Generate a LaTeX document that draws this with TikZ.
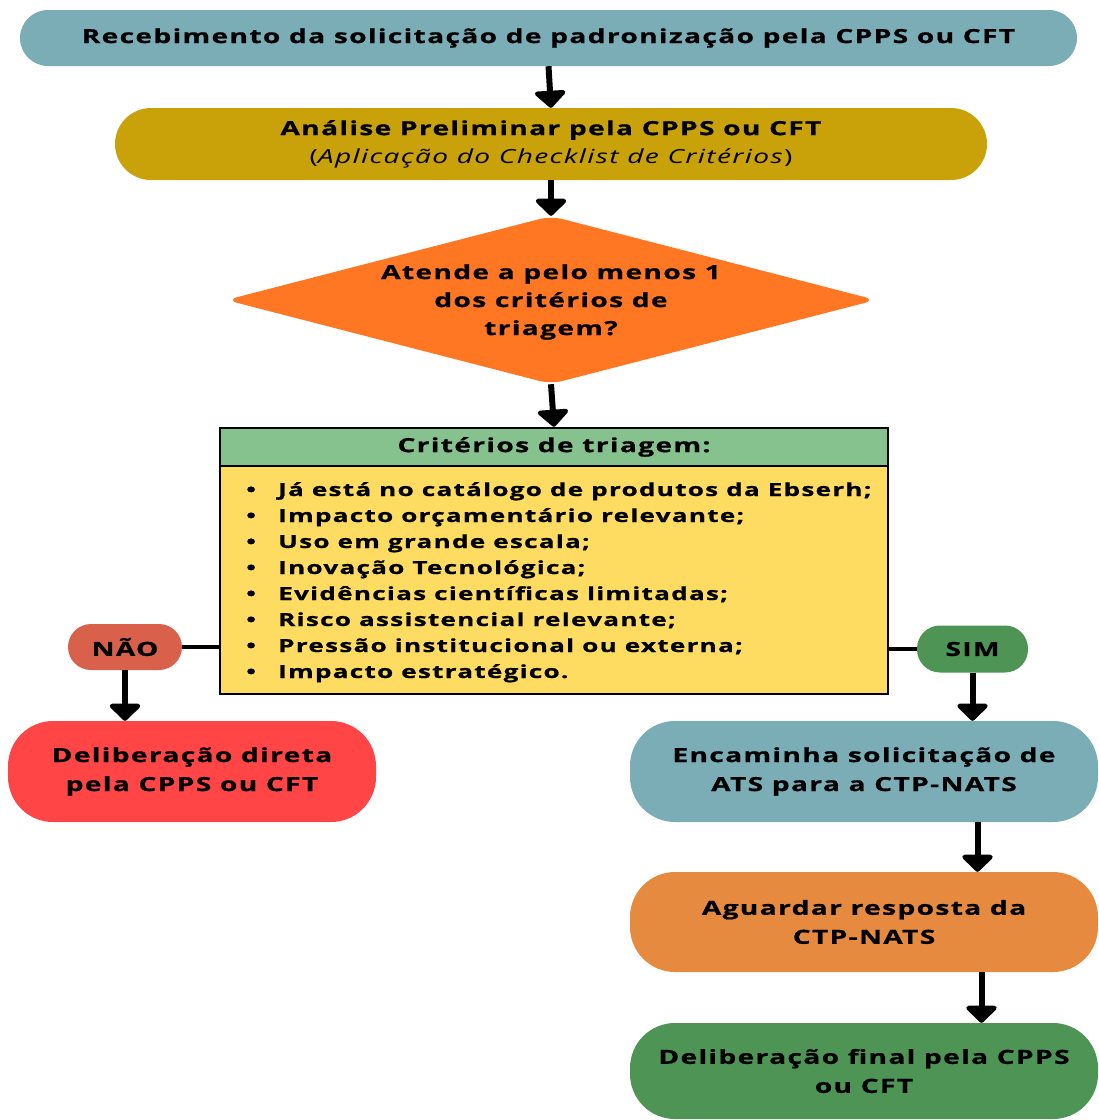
\documentclass[tikz,border=0pt]{standalone}
\usepackage{fontspec}
\setmainfont{Open Sans}[FakeStretch=1.45,LetterSpace=7,BoldFeatures={FakeBold=0.8}]
\usetikzlibrary{arrows.meta,shapes.geometric,calc}
\definecolor{cteal}{HTML}{7AADB6}
\definecolor{cmust}{HTML}{C9A20A}
\definecolor{corange}{HTML}{FF7722}
\definecolor{chead}{HTML}{86C28E}
\definecolor{cyellow}{HTML}{FEDC62}
\definecolor{cnao}{HTML}{D9604A}
\definecolor{cred}{HTML}{FF4545}
\definecolor{cgreen}{HTML}{4D9455}
\definecolor{cwait}{HTML}{E68A40}
\tikzset{
  pill/.style={draw=none, rectangle, rounded corners=#1, inner sep=0pt, align=center, font=\bfseries\fontsize{19.4}{29}\selectfont},
  arr/.style={line width=6pt, -{Triangle[width=36pt,length=18pt,round]}},
  link/.style={line width=3.5pt},
}
\begin{document}
\begin{tikzpicture}[x=1pt,y=-1pt]
\useasboundingbox (0,0) rectangle (1099,1120);
\node[pill=28pt, fill=cteal, minimum width=1057pt, minimum height=56pt] (b1) at (548.5,38) {Recebimento da solicitação de padronização pela CPPS ou CFT};
\node[pill=36pt, fill=cmust, minimum width=872pt, minimum height=72pt] (b2) at (551,144) {Análise Preliminar pela CPPS ou CFT\\[-1pt]{\mdseries(\itshape Aplicação do Checklist de Critérios\/\upshape)}};
\node[diamond, aspect=3.87, fill=corange, minimum width=650pt, minimum height=168pt, inner sep=0pt, rounded corners=12pt] (dec) at (551,300) {};
\node[align=center, font=\bfseries\fontsize{19.4}{28}\selectfont] (dectext) at (551,302) {Atende a pelo menos 1\\dos critérios de\\triagem?};
\node[draw=black, line width=2.5pt, fill=chead, minimum width=668pt, minimum height=38pt, inner sep=0pt, font=\bfseries\fontsize{19.4}{24}\selectfont] (hdr) at (554,447) {Critérios de triagem:};
\node[draw=black, line width=2.5pt, fill=cyellow, minimum width=668pt, minimum height=228pt, inner sep=0pt] (body) at (554,580) {};
\node[anchor=north west, align=left, inner sep=0pt, font=\bfseries\fontsize{18}{26}\selectfont] (list) at (246,482) {%
\makebox[32pt][l]{•}Já está no catálogo de produtos da Ebserh;\\
\makebox[32pt][l]{•}Impacto orçamentário relevante;\\
\makebox[32pt][l]{•}Uso em grande escala;\\
\makebox[32pt][l]{•}Inovação Tecnológica;\\
\makebox[32pt][l]{•}Evidências científicas limitadas;\\
\makebox[32pt][l]{•}Risco assistencial relevante;\\
\makebox[32pt][l]{•}Pressão institucional ou externa;\\
\makebox[32pt][l]{•}Impacto estratégico.};
\node[pill=23pt, fill=cnao, minimum width=114pt, minimum height=46pt] (nao) at (125,647) {NÃO};
\node[pill=23pt, fill=cgreen, minimum width=111pt, minimum height=47pt] (sim) at (972.5,649) {SIM};
\node[pill=45pt, fill=cred, minimum width=368pt, minimum height=101pt] (dir) at (192,771.5) {Deliberação direta\\pela CPPS ou CFT};
\node[pill=45pt, fill=cteal, minimum width=468pt, minimum height=101pt] (enc) at (864,771.5) {Encaminha solicitação de\\ATS para a CTP-NATS};
\node[pill=45pt, fill=cwait, minimum width=468pt, minimum height=100pt] (agu) at (864,922) {Aguardar resposta da\\CTP-NATS};
\node[pill=45pt, fill=cgreen, minimum width=468pt, minimum height=96pt] (fin) at (864,1071) {Deliberação final pela CPPS\\ou CFT};
\draw[arr] (b1.south) -- (b2.north);
\draw[arr] (b2.south) -- (dec.north);
\draw[arr] (dec.south) -- (hdr.north);
\draw[link] (nao.east) -- (nao.east -| body.west);
\draw[link] (sim.west) -- (sim.west -| body.east);
\draw[arr] (nao.south) -- (nao.south |- dir.north);
\draw[arr] (sim.south) -- (sim.south |- enc.north);
\draw[arr] ([xshift=5pt]sim.south |- enc.south) -- ([xshift=5pt]sim.south |- agu.north);
\draw[arr] ([xshift=9pt]sim.south |- agu.south) -- ([xshift=9pt]sim.south |- fin.north);
\end{tikzpicture}
\end{document}
